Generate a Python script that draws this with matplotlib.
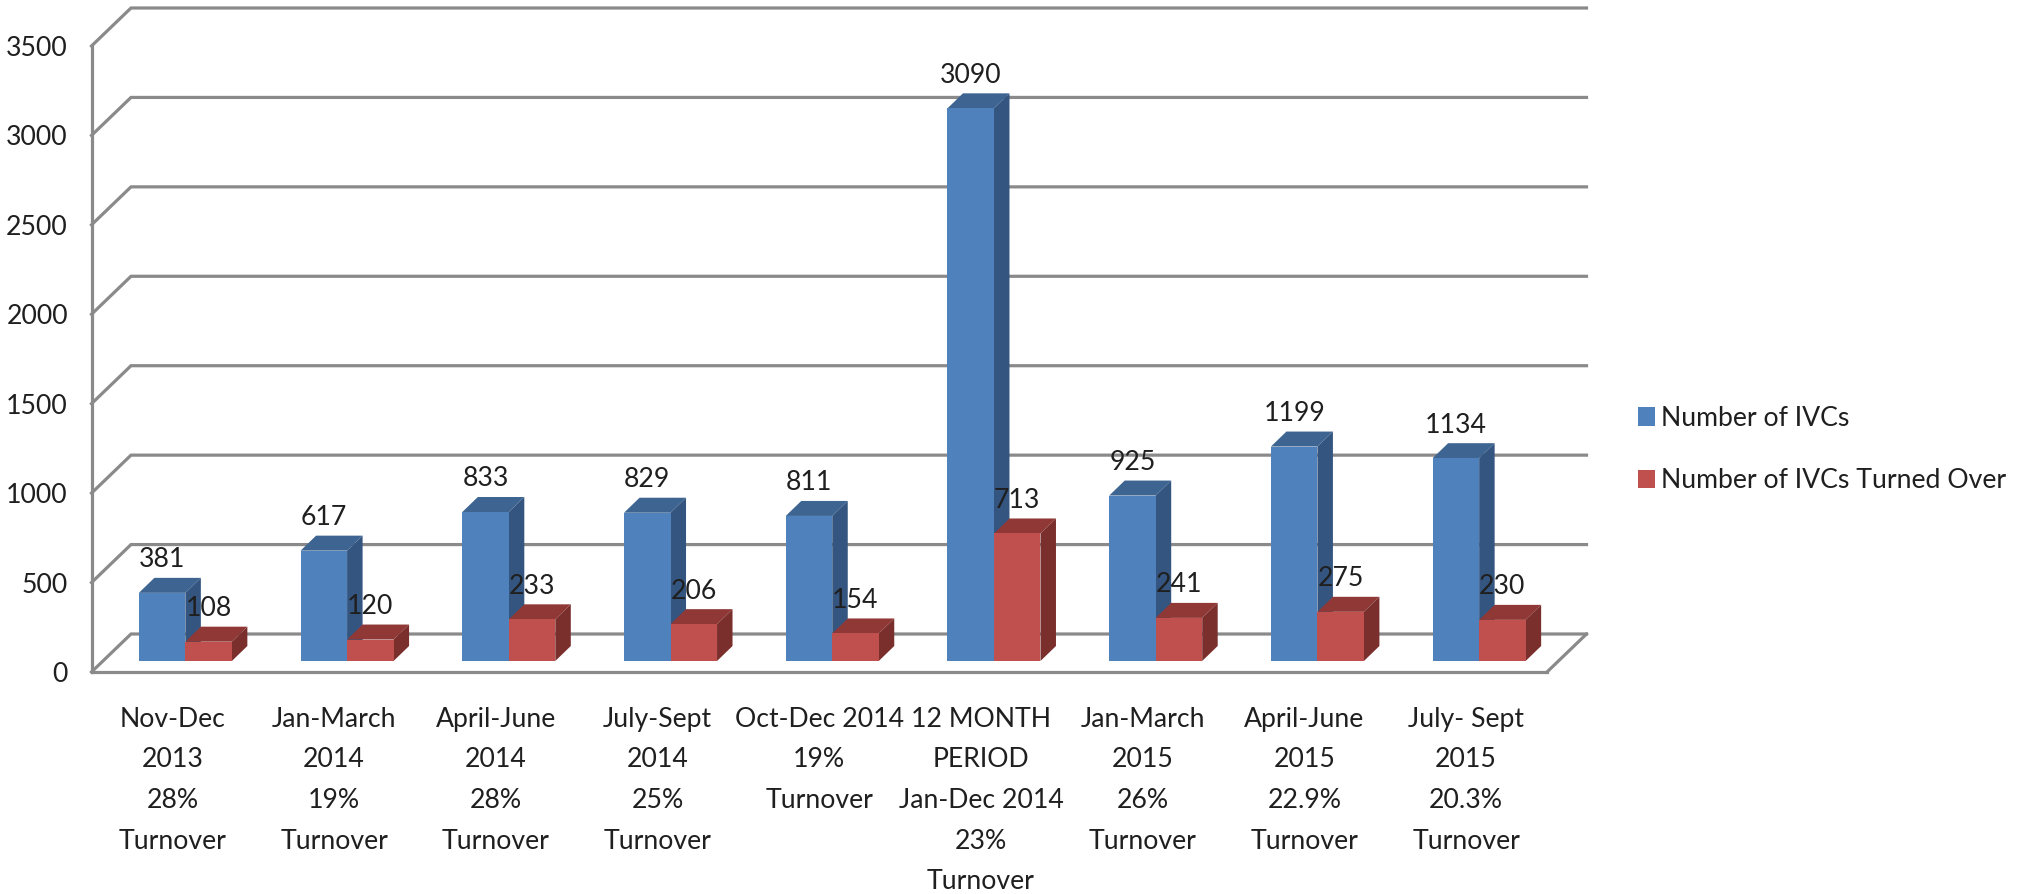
import matplotlib
matplotlib.use('Agg')
import numpy as np
import matplotlib.pyplot as plt

plt.rcParams['font.family'] = ['Lato', 'DejaVu Sans']

# Data
periods = ['Nov-Dec\n2013\n28%\nTurnover',
           'Jan-March\n2014\n19%\nTurnover',
           'April-June\n2014\n28%\nTurnover',
           'July-Sept\n2014\n25%\nTurnover',
           'Oct-Dec 2014\n19%\nTurnover',
           '12 MONTH\nPERIOD\nJan-Dec 2014\n23%\nTurnover',
           'Jan-March\n2015\n26%\nTurnover',
           'April-June\n2015\n22.9%\nTurnover',
           'July- Sept\n2015\n20.3%\nTurnover']
num_ivcs = [381, 617, 833, 829, 811, 3090, 925, 1199, 1134]
num_turned_over = [108, 120, 233, 206, 154, 713, 241, 275, 230]
y_ticks = [0, 500, 1000, 1500, 2000, 2500, 3000, 3500]
series_names = ['Number of IVCs', 'Number of IVCs Turned Over']

W, H = 2026, 894
GREY = '#8a8a8a'
TEXT = '#1f1f1f'
FS = 19.2

# front wall of the fake 3D box, in pixels of the reference
left, right, y0, y3500 = 91.5, 1547, 672, 46

fig = plt.figure(figsize=(W / 100, H / 100), dpi=100)
ax = fig.add_axes([left / W, 1 - y0 / H, (right - left) / W, (y0 - y3500) / H])
ax.set_xlim(0, len(periods))
ax.set_ylim(0, 3500)

px_x = len(periods) / (right - left)  # x data units per pixel
px_y = 3500 / (y0 - y3500)            # y data units per pixel

# depth offsets
wall_dx, wall_dy = 39.5 * px_x, 38 * px_y
base_dx, base_dy = 13 * px_x, 11 * px_y
bar_dx, bar_dy = 15.5 * px_x, 15 * px_y
bar_w = 46.5 * px_x

# back wall + floor lines
for v in y_ticks:
    ax.plot([0, wall_dx, len(periods) + wall_dx], [v, v + wall_dy, v + wall_dy],
            color=GREY, lw=2.3, clip_on=False, zorder=1, solid_joinstyle='miter')
ax.plot([len(periods), len(periods) + wall_dx], [0, wall_dy], color=GREY, lw=2.3, clip_on=False, zorder=1)


def bars_3d(xs, values, front, top, side, z):
    bars = ax.bar(xs, values, bar_w, bottom=base_dy, color=front, align='edge',
                  clip_on=False, zorder=z + 1, linewidth=0)
    for x, v in zip(xs, values):
        t = v + base_dy
        ax.fill([x, x + bar_w, x + bar_w + bar_dx, x + bar_dx],
                [t, t, t + bar_dy, t + bar_dy], color=top, lw=0, clip_on=False, zorder=z)
        ax.fill([x + bar_w, x + bar_w + bar_dx, x + bar_w + bar_dx, x + bar_w],
                [base_dy, base_dy + bar_dy, t + bar_dy, t], color=side, lw=0, clip_on=False, zorder=z)
        ax.annotate(str(v), (x + bar_w / 2, t + bar_dy), xytext=(0, 13), textcoords='offset points',
                    ha='center', va='center', fontsize=FS, color=TEXT, zorder=10, annotation_clip=False)
    return bars


centers = np.arange(len(periods)) + 0.5 + base_dx
blue = bars_3d(centers - bar_w, num_ivcs, '#4f81bd', '#3e6592', '#335580', 3)
red = bars_3d(centers, num_turned_over, '#c0504d', '#8f3836', '#7b2f2d', 5)

# axes
for s in ['top', 'right']:
    ax.spines[s].set_visible(False)
for s in ['left', 'bottom']:
    ax.spines[s].set_color(GREY)
    ax.spines[s].set_linewidth(2.3)
    ax.spines[s].set_zorder(2)
ax.set_yticks(y_ticks)
ax.tick_params(axis='y', length=0, pad=17, labelsize=FS, labelcolor=TEXT)
ax.set_xticks(np.arange(len(periods)) + 0.5)
ax.set_xticklabels(periods, linespacing=1.78)
ax.tick_params(axis='x', length=0, pad=25, labelsize=FS, labelcolor=TEXT)

fig.legend([blue, red], series_names, loc='upper left', bbox_to_anchor=(1638 / W, 1 - 406 / H),
           frameon=False, fontsize=FS, labelcolor=TEXT, handlelength=0.62, handleheight=0.68,
           handletextpad=0.25, labelspacing=1.4, borderpad=0, borderaxespad=0)

fig.savefig('out.png', dpi=100)
